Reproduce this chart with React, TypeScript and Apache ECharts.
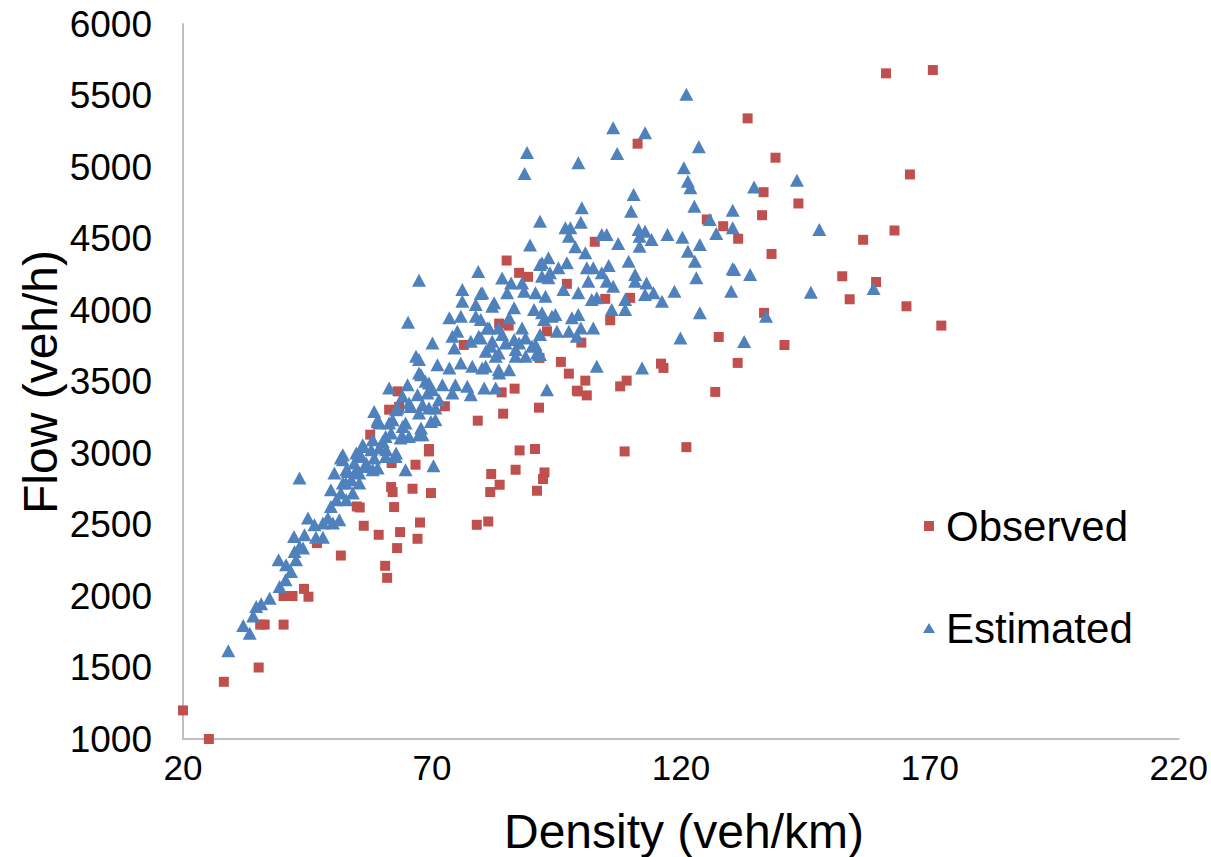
import React, { useEffect, useRef } from "react";
import * as echarts from "echarts";

const xTickLabels = [20, 70, 120, 170, 220];
const yTickLabels = [1000, 1500, 2000, 2500, 3000, 3500, 4000, 4500, 5000, 5500, 6000];
const seriesNames = ["Observed", "Estimated"];

const observed: number[][] = [
  [20, 1200], [25.2, 1000], [28.2, 1400], [35.2, 1500], [35.5, 1800], [36.4, 1800], [40.2, 1800],
  [40.2, 2000], [42, 2000], [44.3, 2050], [45.2, 1995], [51.7, 2283], [46.9, 2370], [56.3, 2491],
  [54.9, 2626], [55.5, 2619], [57.6, 3128],
  [85, 4346], [87.5, 4260], [89.3, 4232], [97.1, 4183], [85.4, 3891], [83.5, 3905], [93.1, 3851],
  [91.6, 3665], [95.9, 3637], [97.5, 3555], [99.1, 3436], [86.6, 3450], [84, 3424], [91.5, 3317],
  [84.3, 3275], [79.2, 3226], [76.4, 3756], [72.6, 3327], [63.1, 3431], [61.4, 3303], [63.4, 3322],
  [69.4, 3028], [69.4, 3011], [87.6, 3018], [90.7, 3028], [66.7, 2918], [61.9, 2930], [86.8, 2883],
  [92.6, 2864], [92.3, 2818], [81.9, 2853], [83.6, 2778], [81.7, 2727], [91.1, 2736], [61.8, 2762],
  [62.1, 2727], [66.1, 2750], [69.8, 2720], [62.4, 2622], [67.6, 2514], [81.3, 2521], [79, 2498],
  [59.3, 2428], [63.6, 2447], [67.1, 2400], [63, 2335], [60.6, 2211], [61, 2127],
  [111.3, 5163], [102.7, 4477], [125.2, 4633], [128.5, 4586], [104.8, 4078], [109.8, 4085],
  [105.8, 3928], [100, 3772], [100.8, 3506], [99.3, 3431], [101.1, 3403], [109.1, 3506],
  [107.8, 3466], [116, 3625], [116.5, 3595], [127.6, 3811], [126.9, 3427], [108.7, 3011], [121.1, 3041],
  [161.2, 5655], [170.6, 5678], [133.4, 5340], [139, 5065], [166, 4948], [136.6, 4824], [143.6, 4745],
  [136.3, 4663], [131.5, 4498], [162.9, 4556], [156.6, 4491], [138.2, 4392], [152.4, 4236],
  [159.2, 4196], [153.9, 4075], [165.3, 4026], [172.3, 3891], [136.7, 3980], [140.8, 3755], [131.4, 3630],
];

const estimated: number[][] = [
  [29.1, 1618], [33.4, 1740], [32.1, 1793], [34.1, 1861], [34.7, 1926], [35.7, 1945], [37.4, 1985],
  [39.4, 2066], [40.6, 2113], [41.7, 2171], [40.7, 2218], [39.2, 2253], [42.7, 2253], [42.4, 2311],
  [43.4, 2346], [42.3, 2416], [44.4, 2428], [44.1, 2335], [46.7, 2411], [48.1, 2411], [45.1, 2545],
  [46.4, 2498], [48.1, 2510], [49.1, 2545], [50.1, 2510], [51.4, 2533], [49.7, 2626], [50.8, 2673],
  [49.7, 2743], [50.4, 2860], [51.7, 2720], [52.8, 2673], [54.1, 2720], [52.1, 2790], [51.7, 2965],
  [52.8, 2883], [53.8, 2813], [54.8, 2883], [55.4, 3000], [56.1, 3046], [56.8, 2930], [58.1, 2883],
  [58.1, 3093], [58.4, 3291], [59.1, 3233], [43.4, 2825],
  [67.4, 4208], [65.2, 3914], [79.3, 4270], [76.1, 4143], [79.8, 4115], [84.1, 4224], [85.9, 4189],
  [88.1, 4189], [91.7, 4318], [93.7, 4260], [76.1, 4061], [78.8, 4038], [82.5, 4050], [85.1, 4120],
  [86.5, 4015], [88.5, 4131], [90.8, 4120], [92.8, 4096], [73.5, 3945], [75.8, 3956], [78.8, 3956],
  [81.5, 3875], [85.5, 3945], [90.5, 4003], [92.5, 3933], [94.8, 3968], [70.1, 3770], [74.1, 3816],
  [75.1, 3851], [77.8, 3781], [79.8, 3805], [81.8, 3746], [84.1, 3828], [86.5, 3793], [88.8, 3805],
  [90.8, 3758], [91.5, 3688], [86.8, 3676], [82.8, 3676], [74.5, 3735], [66.8, 3676], [67.4, 3653],
  [71.1, 3618], [73.5, 3595], [75.8, 3630], [78.1, 3606], [80.1, 3595], [83.5, 3560], [85.5, 3583],
  [67.8, 3548], [69.4, 3490], [72.1, 3478], [74.7, 3478], [77.1, 3466], [80.5, 3455], [82.8, 3455],
  [77.8, 3408], [93.1, 3443], [61.4, 3455], [65.1, 3478], [64.1, 3396], [67.1, 3408], [69.1, 3420],
  [71.4, 3373], [74.1, 3420], [63.1, 3315], [65.7, 3326], [68.1, 3338], [70.7, 3315], [59.4, 3210],
  [62.1, 3233], [64.7, 3210], [67.8, 3175], [69.8, 3221], [61.8, 3140], [64.1, 3116], [67.4, 3128],
  [60.1, 3081], [56.1, 3058], [57.8, 3023], [60.8, 3023], [62.8, 3000], [52.1, 2988], [54.8, 3000],
  [67.4, 3560], [68.7, 3501], [70.1, 3443], [62.8, 3303], [65.4, 3350], [67.4, 3280], [69.4, 3315],
  [70.7, 3233], [59.1, 3221], [61.4, 3210], [64.1, 3186], [68.1, 3128], [60.7, 3116], [63.7, 3105],
  [65.4, 3116], [59.4, 3035], [55.7, 2976], [58.4, 2965], [60.7, 2976], [62.7, 2976], [52.1, 2953],
  [54.4, 2930], [56.7, 2906], [59.1, 2895], [53.1, 2871], [55.4, 2860], [64.7, 2883], [70.3, 2911],
  [52.7, 2790], [55.4, 2790],
  [80.1, 4120], [82.1, 4026], [79.8, 3933], [81.1, 3875], [83.4, 3875], [88.1, 3875], [79.4, 3816],
  [82.1, 3781], [84.8, 3770], [87.5, 3770], [90.1, 3746], [80.8, 3711], [83.4, 3700], [86.8, 3723],
  [88.8, 3676], [91.1, 3700], [80.8, 3606], [83.4, 3583],
  [123.6, 5141], [107.2, 5095], [99.4, 5030], [120.6, 4995], [121.4, 4901], [121.9, 4855],
  [110.5, 4808], [100.1, 4715], [110, 4691], [122.7, 4726], [130.4, 4698], [99.9, 4614], [91.7, 4621],
  [125.8, 4633], [96.8, 4575], [97.8, 4575], [97.5, 4516], [111.5, 4563], [112.8, 4551], [114.1, 4493],
  [111.7, 4516], [104.1, 4528], [105.1, 4528], [117.3, 4528], [120.3, 4509], [127.1, 4535],
  [130.4, 4575], [107.4, 4465], [111.7, 4446], [123.8, 4458], [121.4, 4411], [98.8, 4442],
  [100.8, 4400], [122.8, 4341], [93.4, 4365], [97.1, 4330], [109.5, 4341], [105.5, 4311],
  [101.1, 4295], [102.4, 4295], [95.4, 4295], [92.1, 4330], [130.4, 4288], [110.8, 4248],
  [104.1, 4260], [92.1, 4236], [93.4, 4225], [101.4, 4201], [105.1, 4201], [106.4, 4166],
  [110.8, 4201], [113.1, 4189], [123.1, 4225], [118.7, 4131], [130.1, 4131], [96.4, 4143],
  [99.4, 4120], [114.5, 4120], [112.8, 4108], [102.1, 4073], [103.1, 4085], [108.8, 4073],
  [116.2, 4061], [106.1, 4003], [108.8, 4003], [123.8, 3980], [94.1, 3956], [98.1, 3945],
  [99.4, 3968], [92.1, 3980], [95.1, 3851], [97.5, 3851], [99.9, 3875], [102.4, 3875], [99.1, 3816],
  [119.9, 3805], [91.7, 3828], [91.7, 3688], [103.1, 3606], [112.2, 3595],
  [121.1, 5508], [106.4, 5275], [112.8, 5239], [89.1, 5101], [88.6, 4955], [89.7, 4455],
  [134.7, 4861], [143.3, 4908], [147.8, 4563], [130.7, 4283], [133.9, 4248], [146.1, 4124],
  [158.7, 4150], [137.1, 3956], [132.7, 3779],
];

const FONT = "'Liberation Sans', Arial, sans-serif";

export default function App() {
  const ref = useRef<HTMLDivElement>(null);
  useEffect(() => {
    if (!ref.current) return;
    const chart = echarts.init(ref.current, null, { renderer: "svg" });
    chart.setOption({
      animation: false,
      backgroundColor: "#ffffff",
      grid: { left: 183, right: 29, top: 24, bottom: 118, containLabel: false },
      xAxis: {
        type: "value",
        min: xTickLabels[0],
        max: xTickLabels[xTickLabels.length - 1],
        axisLine: { show: true, lineStyle: { color: "#BFBFBF", width: 2 } },
        axisTick: { show: false },
        splitLine: { show: false },
        axisLabel: {
          customValues: xTickLabels,
          formatter: (v: number) => String(v),
          color: "#000",
          fontSize: 35,
          fontFamily: FONT,
          margin: 11,
        },
      },
      yAxis: {
        type: "value",
        min: yTickLabels[0],
        max: yTickLabels[yTickLabels.length - 1],
        interval: 500,
        axisLine: { show: true, lineStyle: { color: "#BFBFBF", width: 2 } },
        axisTick: { show: false },
        splitLine: { show: false },
        axisLabel: {
          formatter: (v: number) => String(v),
          color: "#000",
          fontSize: 37,
          fontFamily: FONT,
          margin: 31,
        },
      },
      legend: {
        orient: "vertical",
        left: 918,
        top: 496,
        itemGap: 52,
        itemWidth: 12,
        itemHeight: 10,
        data: [
          { name: seriesNames[0], icon: "path://M0,0H10V10H0Z" },
          { name: seriesNames[1], icon: "triangle" },
        ],
        textStyle: {
          color: "#000",
          fontSize: 42,
          fontFamily: FONT,
          lineHeight: 50,
          padding: [0, 0, 0, 6],
        },
      },
      graphic: [
        {
          type: "text",
          x: 684,
          y: 831,
          style: {
            text: "Density (veh/km)",
            fontSize: 48,
            fontFamily: FONT,
            fill: "#000",
            align: "center",
            verticalAlign: "middle",
          },
        },
        {
          type: "text",
          x: 40,
          y: 382,
          rotation: Math.PI / 2,
          style: {
            text: "Flow (veh/h)",
            fontSize: 48,
            fontFamily: FONT,
            fill: "#000",
            align: "center",
            verticalAlign: "middle",
          },
        },
      ],
      series: [
        {
          name: seriesNames[0],
          type: "scatter",
          symbol: "rect",
          symbolSize: 10,
          itemStyle: { color: "#C0504D", opacity: 1 },
          data: observed,
        },
        {
          name: seriesNames[1],
          type: "scatter",
          symbol: "triangle",
          symbolSize: [14, 13],
          itemStyle: { color: "#4F81BD", opacity: 1 },
          data: estimated,
        },
      ],
    });
    return () => chart.dispose();
  }, []);
  return (
    <div
      ref={ref}
      style={{ position: "absolute", left: 0, top: 0, width: 1211, height: 857 }}
    />
  );
}
